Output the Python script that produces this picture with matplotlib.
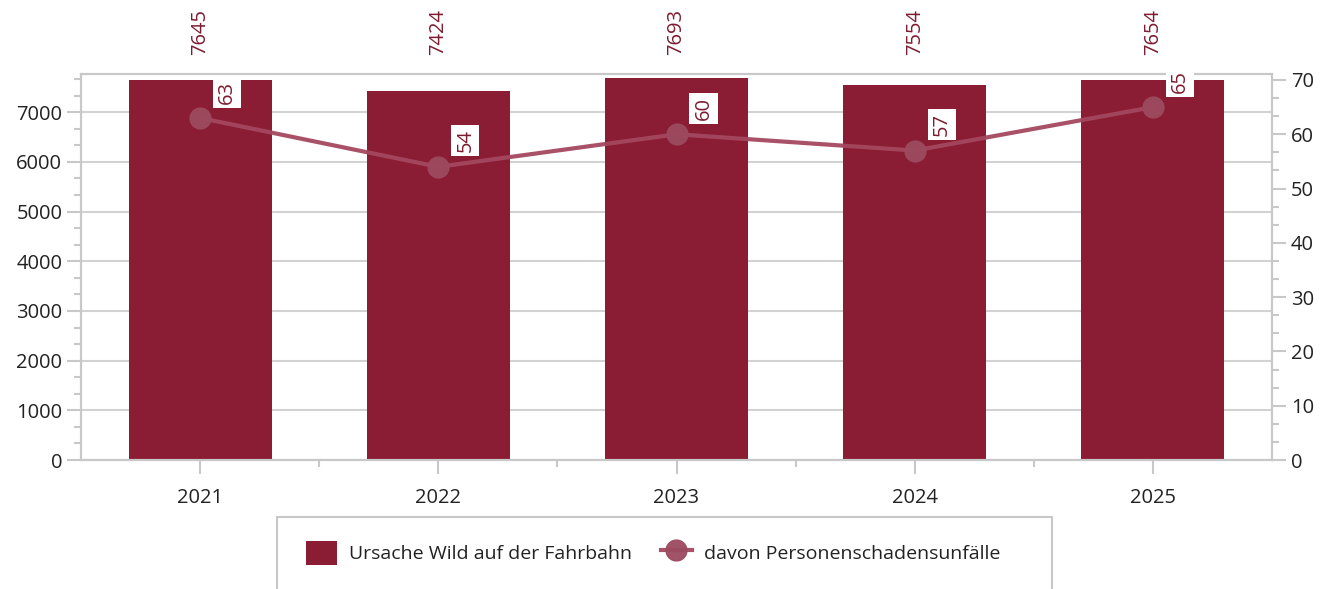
import matplotlib.pyplot as plt
from matplotlib.ticker import MultipleLocator, AutoMinorLocator
from matplotlib.patches import Rectangle

plt.rcParams['font.family'] = ['Open Sans', 'DejaVu Sans']

years = ['2021', '2022', '2023', '2024', '2025']
wild_accidents = [7645, 7424, 7693, 7554, 7654]
injury_accidents = [63, 54, 60, 57, 65]

bar_color = '#8a1d33'
line_color = '#a4485f'
label_color = '#7d1c31'
grid_color = '#d2d2d2'
text_color = '#222222'

fig = plt.figure(figsize=(13.27, 5.89), dpi=100)
ax = fig.add_axes([81 / 1327, 1 - 460 / 589, (1272 - 81) / 1327, (460 - 74) / 589])
ax2 = ax.twinx()

x = list(range(len(years)))

# Balken (linke Achse)
ax.bar(x, wild_accidents, width=0.6, color=bar_color, zorder=2,
       label='Ursache Wild auf der Fahrbahn')
ax.set_xlim(-0.5, len(years) - 0.5)
ax.set_ylim(0, 7770)
ax.yaxis.set_major_locator(MultipleLocator(1000))
ax.yaxis.set_minor_locator(AutoMinorLocator(3))
ax.grid(axis='y', color=grid_color, linewidth=1.5, zorder=0)
ax.set_axisbelow(True)
ax.set_xticks(x)
ax.set_xticklabels(years)
ax.set_xticks([i + 0.5 for i in x[:-1]], minor=True)

# Linie (rechte Achse)
ax2.plot(x, injury_accidents, color=line_color, linewidth=3, marker='o',
         markersize=15, markerfacecolor='#9c4a5f', markeredgecolor='#9c4a5f',
         alpha=0.95, zorder=3, label='davon Personenschadensunfälle')
ax2.set_ylim(0, 71.1)
ax2.yaxis.set_major_locator(MultipleLocator(10))
ax2.yaxis.set_minor_locator(AutoMinorLocator(3))

for a in (ax, ax2):
    for s in a.spines.values():
        s.set_color('#c8c8c8')
        s.set_linewidth(1.5)
    a.tick_params(which='major', length=10, width=1.5, color='#c8c8c8',
                  labelsize=14.5, labelcolor=text_color)
    a.tick_params(which='minor', length=5, width=1.5, color='#c8c8c8')
ax.tick_params(axis='x', which='major', pad=10)

# Beschriftungen
for i, v in enumerate(wild_accidents):
    ax.text(i, 1.109, str(v), transform=ax.get_xaxis_transform(), rotation=90,
            ha='center', va='center', fontsize=14.5, color=label_color)

for i, v in enumerate(injury_accidents):
    ax2.annotate(str(v), xy=(i, v), xytext=(27, 26), textcoords='offset pixels',
                 rotation=90, ha='center', va='center', fontsize=14.5,
                 color=label_color, zorder=5,
                 bbox=dict(boxstyle='square,pad=0.2', facecolor='white',
                           edgecolor='none'))

# Legende
fig.patches.append(Rectangle((277 / 1327, -0.1), (1052 - 277) / 1327, 0.1 + (589 - 517) / 589,
                             transform=fig.transFigure, facecolor='white',
                             edgecolor='#c8c8c8', linewidth=1.5))
h1, l1 = ax.get_legend_handles_labels()
h2, l2 = ax2.get_legend_handles_labels()
fig.legend(h1 + h2, l1 + l2, loc='center', bbox_to_anchor=(653 / 1327, 1 - 553 / 589),
           ncol=2, frameon=False, fontsize=14, labelcolor=text_color,
           handlelength=1.6, handleheight=1.6, handletextpad=0.6, columnspacing=1.5)

fig.savefig('out.png', dpi=100)
